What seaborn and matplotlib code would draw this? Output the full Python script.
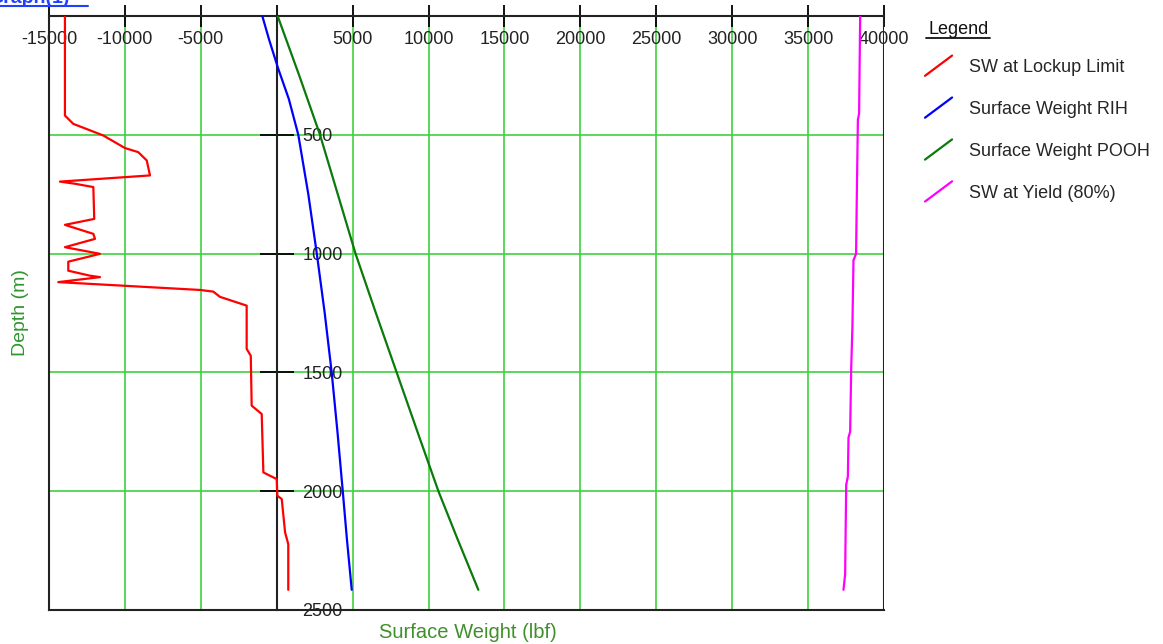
import numpy as np
import pandas as pd
import seaborn as sns
import matplotlib
matplotlib.use('Agg')
import matplotlib.pyplot as plt
from matplotlib.lines import Line2D
from matplotlib.legend_handler import HandlerBase

# depth (m) / surface weight (lbf)
depth_lockup = [0, 419, 454, 503, 556, 573, 608, 671, 697, 706, 720, 854, 879, 917, 938, 973,
                1001, 1034, 1072, 1093, 1099, 1120, 1153, 1160, 1182, 1219, 1401, 1430, 1640,
                1675, 1921, 1949, 2019, 2033, 2173, 2223, 2415]
sw_lockup = [-13950, -13950, -13400, -11420, -9990, -9120, -8560, -8350, -14280, -13290, -12080,
             -12020, -13950, -12080, -11970, -13950, -11640, -13730, -13730, -12300, -11640,
             -14390, -5050, -4180, -3740, -1980, -1980, -1710, -1650, -990, -880, 0, 40, 330,
             550, 760, 760]

depth_rih = [0, 100, 220, 350, 500, 750, 1000, 1250, 1500, 1750, 2000, 2200, 2415]
sw_rih = [-950, -500, 90, 800, 1420, 2080, 2640, 3160, 3620, 4000, 4350, 4620, 4940]

depth_pooh = [0, 250, 500, 750, 1000, 1250, 1500, 1750, 2000, 2200, 2415]
sw_pooh = [60, 1480, 2850, 4020, 5190, 6530, 7900, 9270, 10650, 11900, 13280]

depth_yield = [0, 410, 436, 753, 1001, 1028, 1303, 1483, 1749, 1775, 1938, 1973, 2350, 2415]
sw_yield = [38430, 38360, 38280, 38210, 38160, 37990, 37920, 37840, 37770, 37660, 37620,
            37510, 37440, 37330]

names = ['SW at Lockup Limit', 'Surface Weight RIH', 'Surface Weight POOH', 'SW at Yield (80%)']
colors = {'SW at Lockup Limit': '#ff0000', 'Surface Weight RIH': '#0000ff',
          'Surface Weight POOH': '#0a7a0a', 'SW at Yield (80%)': '#ff00ff'}

xticks = list(range(-15000, 40001, 5000))
xticklabels = ['' if t == 0 else str(t) for t in xticks]
yticks = [500, 1000, 1500, 2000, 2500]

frames = []
for name, d, w in zip(names, [depth_lockup, depth_rih, depth_pooh, depth_yield],
                      [sw_lockup, sw_rih, sw_pooh, sw_yield]):
    frames.append(pd.DataFrame({'depth': d, 'weight': w, 'series': name}))
df = pd.concat(frames, ignore_index=True)

sns.set_theme(style='white')
plt.rcParams['font.family'] = ['Liberation Sans', 'DejaVu Sans']

fig = plt.figure(figsize=(11.63, 6.44), dpi=100)
ax = fig.add_axes([49 / 1163, 1 - 610 / 644, 835 / 1163, 594 / 644])

sns.lineplot(data=df, x='weight', y='depth', hue='series', palette=colors, orient='y',
             sort=False, estimator=None, linewidth=1.6, legend=False, ax=ax, zorder=3)

ax.set_xlim(-15000, 40000)
ax.set_ylim(2500, 0)
ax.set_xticks(xticks)
ax.set_xticklabels(xticklabels)
ax.set_yticks(yticks)
ax.grid(True, color='#3fd13f', linewidth=1.2)
ax.set_axisbelow(True)

ax.xaxis.tick_top()
ax.tick_params(axis='x', direction='inout', length=16, width=1.3, color='black',
               labelsize=13, pad=-31, labelcolor='#222222')
ax.yaxis.tick_right()
ax.spines['right'].set_position(('data', 0))
ax.tick_params(axis='y', direction='inout', length=25, width=1.3, color='black',
               labelsize=13, pad=6, labelcolor='#222222')
for s in ax.spines.values():
    s.set_color('#222222')
    s.set_linewidth(1.5)
ax.axvline(40000, color='#222222', linewidth=1.5, zorder=4)

ax.set_xlabel('Surface Weight (lbf)', fontsize=14.5, color='#3f8f2a')
ax.xaxis.set_label_position('bottom')
ax.xaxis.set_label_coords(0.502, -0.022)
ax.set_ylabel('Depth (m)', fontsize=14, color='#2f972f')
ax.yaxis.set_label_position('left')
ax.yaxis.set_label_coords(-0.024, 0.5)


class SlashHandler(HandlerBase):
    def create_artists(self, legend, orig_handle, xdescent, ydescent, width, height, fontsize, trans):
        x0, y0 = -xdescent, -ydescent
        line = Line2D([x0, x0 + width], [y0 - 0.3 * height, y0 + 1.3 * height],
                      color=orig_handle.get_color(), linewidth=1.6, transform=trans)
        return [line]


handles = [Line2D([], [], color=colors[n]) for n in names]
leg = ax.legend(handles, names, loc='upper left', bbox_to_anchor=(925 / 1163, 1 - 59 / 644),
                bbox_transform=fig.transFigure, frameon=False, fontsize=13, borderpad=0,
                borderaxespad=0, handlelength=1.5, handletextpad=0.95, labelspacing=1.38,
                handler_map={Line2D: SlashHandler()})

fig.text(928 / 1163, 1 - 29 / 644, 'Legend', fontsize=13, va='center', ha='left', color='#111111')
fig.add_artist(Line2D([926 / 1163, 990 / 1163], [1 - 38 / 644] * 2, color='#111111', linewidth=1.3))

# clipped title link in the corner
fig.text(-12 / 1163, 1 - 3 / 644, 'Graph(1)', fontsize=14, color='#2040ff', fontweight='bold',
         va='baseline', ha='left')
fig.add_artist(Line2D([0, 88 / 1163], [1 - 6 / 644] * 2, color='#2040ff', linewidth=1.5))

fig.savefig('out.png', dpi=100)
